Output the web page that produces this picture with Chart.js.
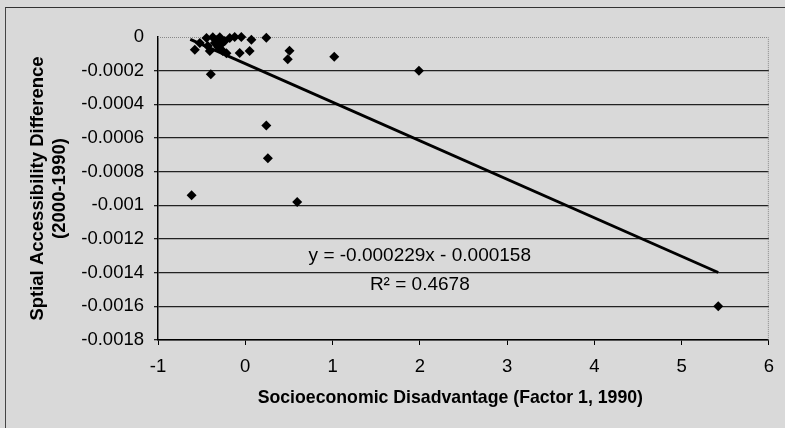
<!DOCTYPE html>
<html>
<head>
<meta charset="utf-8">
<script src="https://cdn.jsdelivr.net/npm/chart.js@4.4.1/dist/chart.umd.min.js"></script>
<style>
html,body{margin:0;padding:0;background:#d9d9d9;}
#wrap{position:absolute;left:0;top:0;width:785px;height:428px;}
#frame{position:absolute;left:5px;top:7px;width:785px;height:428px;border-top:1px solid #333;border-left:1px solid #444;}
canvas{position:absolute;left:0;top:0;}
</style>
</head>
<body>
<div id="wrap">
<div id="frame"></div>
<canvas id="chart" width="785" height="428"></canvas>
</div>
<script>
// scatter points
const factorX = [
    -0.578, -0.521, -0.444, -0.372, -0.292, -0.349, -0.429, -0.406, -0.258, -0.178,
    -0.121, -0.045, -0.064, 0.050, 0.070, 0.241, -0.235, -0.395, -0.216, -0.31,
    -0.33, -0.27, 1.02, 0.507, 0.487, 1.99, -0.615, 0.241, 0.259, 0.595, 5.42
];
const accessY = [
    -0.000075, -0.000036, -0.000006, -0.000002, -0.000002, -0.000036, -0.000053, -0.000083, -0.000083, -0.000006,
    0, 0, -0.000095, -0.000083, -0.000016, -0.000004, -0.000024, -0.000221, -0.000097, -0.00006,
    -0.00002, -0.00004, -0.000117, -0.000081, -0.000132, -0.0002, -0.00094, -0.000526, -0.00072, -0.00098, -0.0016
];

// linear trend line end points
const trendX = [-0.63, 5.42];
const trendY = [-0.000014, -0.001399];

const eqLines = ["y = -0.000229x - 0.000158", "R\u00b2 = 0.4678"];

const xTitle = "Socioeconomic Disadvantage (Factor 1, 1990)";
const yTitle = ["Sptial Accessibility Difference", "(2000-1990)"];

const FONT = "'Liberation Sans', Arial, sans-serif";

const pts = factorX.map((x,i)=>({x:x,y:accessY[i]}));
const trend = trendX.map((x,i)=>({x:x,y:trendY[i]}));

// dotted top/right border of the plot, equation label, x title
const extras = {
    id:"extras",
    beforeDatasetsDraw(chart){
        const c = chart.ctx, a = chart.chartArea;
        c.save();
        c.strokeStyle = "#888";
        c.lineWidth = 1;
        c.setLineDash([1,1]);
        c.beginPath();
        c.moveTo(a.left, a.top+0.5);
        c.lineTo(a.right-0.5, a.top+0.5);
        c.lineTo(a.right-0.5, a.bottom);
        c.stroke();
        c.restore();
    },
    afterDraw(chart){
        const c = chart.ctx;
        const xs = chart.scales.x, ys = chart.scales.y;
        c.save();
        c.fillStyle = "#000";
        c.textAlign = "center";
        c.textBaseline = "middle";
        c.font = "19px " + FONT;
        c.fillText(eqLines[0], xs.getPixelForValue(2.0), ys.getPixelForValue(-0.00130));
        c.fillText(eqLines[1], xs.getPixelForValue(2.0), ys.getPixelForValue(-0.00147));
        c.font = "bold 17.7px " + FONT;
        c.fillText(xTitle, xs.getPixelForValue(2.35), xs.bottom - 30);
        c.restore();
    }
};

new Chart(document.getElementById("chart"),{
    type:"scatter",
    data:{
        datasets:[{
            data:pts,
            pointStyle:"rectRot",
            pointRadius:5,
            backgroundColor:"#000",
            borderColor:"#000",
            borderWidth:0,
            clip:10
        },{
            type:"line",
            data:trend,
            borderColor:"#000",
            borderWidth:2.8,
            pointRadius:0,
            fill:false,
            clip:10
        }]
    },
    options:{
        responsive:false,
        animation:false,
        layout:{padding:{left:23,top:37,right:15,bottom:0}},
        plugins:{legend:{display:false},tooltip:{enabled:false}},
        scales:{
            x:{
                type:"linear",
                min:-1,
                max:6,
                ticks:{stepSize:1,color:"#000",font:{family:FONT,size:18.5},padding:11},
                grid:{drawOnChartArea:false,drawTicks:true,tickLength:5,color:"#000"},
                border:{color:"#000",width:1.5},
                afterFit(s){ s.height = 88; }
            },
            y:{
                min:-0.0018,
                max:0,
                ticks:{
                    stepSize:0.0002,
                    color:"#000",
                    font:{family:FONT,size:18.5},
                    padding:10,
                    callback:v=>{ const r = parseFloat(v.toFixed(4)); return r===0 ? "0" : String(r); }
                },
                grid:{
                    drawTicks:true,
                    tickLength:4,
                    lineWidth:1.3,
                    color:c=>c.tick && c.tick.value===0 ? "rgba(0,0,0,0)" : "#222"
                },
                border:{color:"#000",width:1.5},
                title:{display:true,text:yTitle,color:"#000",font:{family:FONT,size:18.5,weight:"bold"},padding:{bottom:4}},
                afterFit(s){ s.width = 135; }
            }
        }
    },
    plugins:[extras]
});
</script>
</body>
</html>
